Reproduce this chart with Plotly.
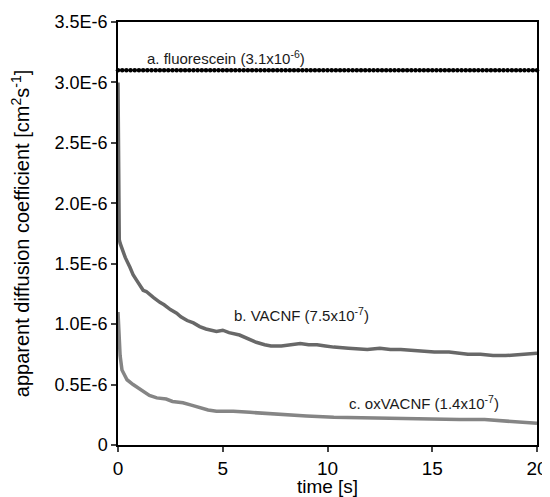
import plotly.graph_objects as go

# Fluorescein constant (sampled every 0.2 s)
t_a = [i * 0.2 for i in range(101)]
d_a = [3.1e-6] * len(t_a)

# VACNF
t_b = [0.0, 0.01, 0.02, 0.04, 0.06, 0.1, 0.2, 0.35, 0.57, 0.72, 0.9, 1.2, 1.35, 1.53, 1.7, 2.0, 2.2, 2.5, 2.8, 3.0,
       3.3, 3.6, 3.9, 4.2, 4.5, 4.7, 5.0, 5.3, 5.8, 6.2, 6.6, 7.0, 7.3, 7.8, 8.3, 8.7, 9.1, 9.5, 9.9, 10.3,
       11.0, 11.9, 12.5, 13.0, 13.5, 14.2, 15.1, 15.8, 16.7, 17.3, 17.9, 18.5, 19.1, 19.6, 20.0]
d_b = [3.0e-6, 2.6e-6, 2.1e-6, 1.78e-6, 1.70e-6, 1.67e-6, 1.62e-6, 1.55e-6, 1.47e-6, 1.41e-6, 1.36e-6, 1.28e-6, 1.27e-6, 1.24e-6, 1.22e-6, 1.18e-6, 1.16e-6, 1.12e-6, 1.09e-6, 1.06e-6,
       1.03e-6, 1.01e-6, 0.98e-6, 0.96e-6, 0.95e-6, 0.94e-6, 0.95e-6, 0.93e-6, 0.91e-6, 0.88e-6, 0.85e-6, 0.83e-6, 0.82e-6, 0.82e-6, 0.83e-6, 0.84e-6, 0.83e-6, 0.83e-6, 0.82e-6, 0.81e-6,
       0.80e-6, 0.79e-6, 0.80e-6, 0.79e-6, 0.79e-6, 0.78e-6, 0.77e-6, 0.77e-6, 0.75e-6, 0.75e-6, 0.74e-6, 0.74e-6, 0.75e-6, 0.755e-6, 0.76e-6]

# oxVACNF
t_c = [0.0, 0.02, 0.05, 0.1, 0.19, 0.3, 0.43, 0.72, 1.05, 1.5, 1.85, 2.3, 2.6, 3.1, 3.5, 3.9, 4.3, 4.7, 5.5, 6.3,
       7.1, 7.9, 9.0, 10.3, 11.5, 12.7, 14.0, 15.1, 16.3, 17.5, 18.5, 19.3, 20.0]
d_c = [1.1e-6, 1.0e-6, 0.88e-6, 0.74e-6, 0.62e-6, 0.58e-6, 0.54e-6, 0.50e-6, 0.46e-6, 0.41e-6, 0.39e-6, 0.38e-6, 0.36e-6, 0.35e-6, 0.33e-6, 0.31e-6, 0.29e-6, 0.28e-6, 0.28e-6, 0.27e-6,
       0.26e-6, 0.25e-6, 0.24e-6, 0.23e-6, 0.225e-6, 0.22e-6, 0.215e-6, 0.21e-6, 0.21e-6, 0.21e-6, 0.20e-6, 0.19e-6, 0.18e-6]

y_tickvals = [0, 0.5e-6, 1.0e-6, 1.5e-6, 2.0e-6, 2.5e-6, 3.0e-6, 3.5e-6]
y_ticktext = ["0", "0.5E-6", "1.0E-6", "1.5E-6", "2.0E-6", "2.5E-6", "3.0E-6", "3.5E-6"]
x_tickvals = [0, 5, 10, 15, 20]

fig = go.Figure()
fig.add_trace(go.Scatter(x=t_b, y=d_b, mode="lines", line=dict(color="#686868", width=3.5), showlegend=False))
fig.add_trace(go.Scatter(x=t_c, y=d_c, mode="lines", line=dict(color="#858585", width=3.5), showlegend=False))
fig.add_trace(go.Scatter(x=t_a, y=d_a, mode="lines+markers", line=dict(color="black", width=1.5),
                         marker=dict(color="black", size=4.5), showlegend=False, cliponaxis=False))

font = "Liberation Sans, Arial, sans-serif"
fig.add_annotation(x=1.29, y=3.21e-6, text="a. fluorescein (3.1x10<sup>-6</sup>)", showarrow=False,
                   xanchor="left", font=dict(family=font, size=15, color="#1a1a1a"))
fig.add_annotation(x=5.44, y=1.076e-6, text="b. VACNF (7.5x10<sup>-7</sup>)", showarrow=False,
                   xanchor="left", font=dict(family=font, size=15, color="#1a1a1a"))
fig.add_annotation(x=10.93, y=0.35e-6, text="c. oxVACNF (1.4x10<sup>-7</sup>)", showarrow=False,
                   xanchor="left", font=dict(family=font, size=15, color="#1a1a1a"))

# page body has an 8px margin, so the figure is 542x489 and margins compensate
fig.update_layout(
    width=542, height=489,
    margin=dict(l=110, r=13, t=14, b=52, autoexpand=False),
    paper_bgcolor="white", plot_bgcolor="white",
    font=dict(family=font, size=18, color="black"),
)
fig.update_xaxes(range=[0, 20], tickvals=x_tickvals, ticks="outside", ticklen=5, tickwidth=1.5,
                 showline=True, linecolor="black", linewidth=1.5, mirror=True, showgrid=False, zeroline=False,
                 automargin=False,
                 title=dict(text="time [s]", standoff=10, font=dict(size=19)), tickfont=dict(size=19))
fig.update_yaxes(range=[0, 3.5e-6], tickvals=y_tickvals, ticktext=y_ticktext, ticks="outside", ticklen=5, tickwidth=1.5,
                 showline=True, linecolor="black", linewidth=1.5, mirror=True, showgrid=False, zeroline=False,
                 automargin=False,
                 title=dict(text="apparent diffusion coefficient [cm<sup>2</sup>s<sup>-1</sup>]", standoff=23, font=dict(size=20)),
                 tickfont=dict(size=18))

fig.write_html("out.html")
